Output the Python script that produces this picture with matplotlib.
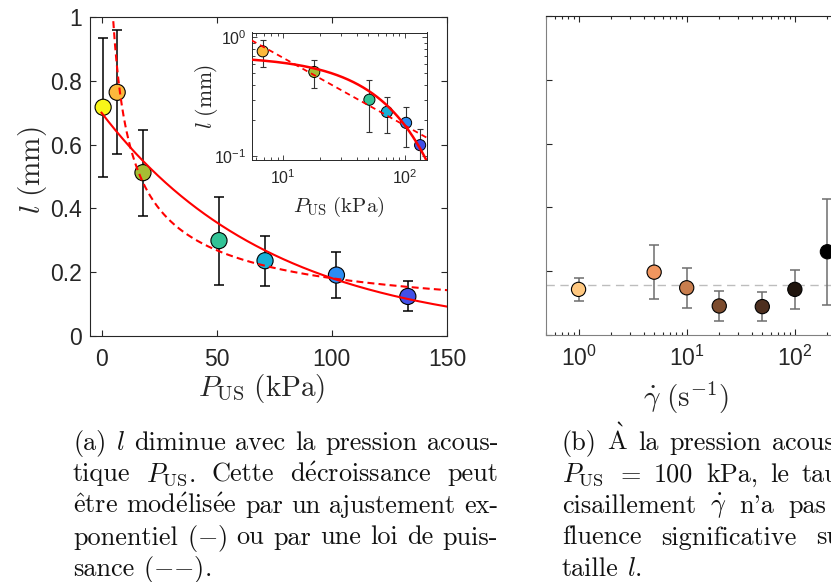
import numpy as np
import matplotlib
matplotlib.use("Agg")
import matplotlib.pyplot as plt
from matplotlib.transforms import IdentityTransform
from matplotlib.ticker import NullFormatter

plt.rcParams['font.family'] = ['Liberation Sans', 'DejaVu Sans']
plt.rcParams['mathtext.fontset'] = 'cm'
plt.rcParams['lines.scale_dashes'] = False

# ---------------- data: panel (a) ----------------
pressure_kpa = [0.7, 6.8, 18, 51, 71, 102, 133]
size_mm = [0.717, 0.764, 0.512, 0.299, 0.236, 0.191, 0.124]
size_err = [0.218, 0.195, 0.135, 0.138, 0.078, 0.071, 0.047]
colors_a = ['#F8F518', '#FCB83C', '#A6BE33', '#32C396', '#17B0D6', '#2C8CF2', '#4150E8']
# fit parameters
exp_amp, exp_scale = 0.70, 74.0      # l = A exp(-P/P0)
pow_amp, pow_exp = 2.5, 0.57         # l = B P^-n
xticks_a = [0, 50, 100, 150]
yticks_a = [0, 0.2, 0.4, 0.6, 0.8, 1]
ytick_labels_a = ['0', '0.2', '0.4', '0.6', '0.8', '1']

# ---------------- data: panel (b) ----------------
shear_rate = [1, 5, 10, 20, 50, 100, 200]
size_b = [0.143, 0.197, 0.148, 0.091, 0.089, 0.143, 0.261]
err_b = [0.035, 0.085, 0.063, 0.047, 0.046, 0.062, 0.166]
colors_b = ['#FFC880', '#F0965F', '#C97E4E', '#7C4C2E', '#4D2F1F', '#1F140D', '#000000']
mean_b = 0.156

W, H = 831, 582
fig = plt.figure(figsize=(W / 100, H / 100), dpi=100)


def px_axes(l, t, r, b):
    return fig.add_axes([l / W, 1 - b / H, (r - l) / W, (b - t) / H])


DARK = '#262626'
RED = '#FF0000'

# ---------------- main axes (a) ----------------
ax = px_axes(90, 17, 447, 336)
ax.errorbar(pressure_kpa, size_mm, yerr=size_err, fmt='none', ecolor='k',
            elinewidth=1.1, capsize=3.5, capthick=1.1, zorder=2)
ax.scatter(pressure_kpa, size_mm, s=135, c=colors_a, edgecolors='k',
           linewidths=0.8, zorder=3)
xs = np.linspace(0, 150, 400)
ax.plot(xs, exp_amp * np.exp(-xs / exp_scale), color=RED, lw=1.5, zorder=4)
xp = np.linspace(4, 150, 400)
ax.plot(xp, pow_amp * xp ** (-pow_exp), color=RED, lw=1.5, ls='--',
        dashes=(5, 3), zorder=4)
ax.set_xlim(-5, 150)
ax.set_ylim(0, 1)
ax.set_xticks(xticks_a)
ax.set_yticks(yticks_a)
ax.set_yticklabels(ytick_labels_a)
ax.tick_params(direction='in', length=4, width=0.8, top=True, right=True,
               labelsize=16.5, colors=DARK)
ax.tick_params(axis='x', pad=9)
ax.tick_params(axis='y', pad=6)
for s in ax.spines.values():
    s.set_color(DARK)
    s.set_linewidth(0.8)
ax.set_xlabel(r'$P_{\mathrm{US}}\ (\mathrm{kPa})$', fontsize=21, color=DARK)
ax.set_ylabel(r'$l\ (\mathrm{mm})$', fontsize=21, color=DARK)
ax.xaxis.set_label_coords(0.48, -0.112)
ax.yaxis.set_label_coords(-0.115, 0.52)

# ---------------- inset ----------------
ins = px_axes(251.5, 32.5, 426.5, 160)
ins.set_facecolor('white')
ins.set_xscale('log')
ins.set_yscale('log')
ins.errorbar(pressure_kpa, size_mm, yerr=size_err, fmt='none', ecolor='#333333',
             elinewidth=0.8, capsize=2.5, capthick=0.8, zorder=2)
ins.scatter(pressure_kpa, size_mm, s=64, c=colors_a, edgecolors='k',
            linewidths=0.7, zorder=3)
xi = np.linspace(5.5, 150, 400)
ins.plot(xi, exp_amp * np.exp(-xi / exp_scale), color=RED, lw=1.8, zorder=4)
ins.plot(xi, pow_amp * xi ** (-pow_exp), color=RED, lw=1.3, ls='--',
         dashes=(4, 3), zorder=4)
ins.set_xlim(5.5, 150)
ins.set_ylim(0.093, 1.1)
ins.tick_params(which='both', direction='in', top=True, right=True,
                labelsize=11.5, colors=DARK, width=0.6)
ins.tick_params(which='major', length=3.5)
ins.tick_params(which='minor', length=2)
ins.tick_params(axis='x', pad=6)
ins.xaxis.set_minor_formatter(NullFormatter())
ins.yaxis.set_minor_formatter(NullFormatter())
for s in ins.spines.values():
    s.set_color(DARK)
    s.set_linewidth(0.7)
ins.set_xlabel(r'$P_{\mathrm{US}}\ (\mathrm{kPa})$', fontsize=15, color=DARK)
ins.set_ylabel(r'$l\ (\mathrm{mm})$', fontsize=15.5, color=DARK)
ins.xaxis.set_label_coords(0.5, -0.27)
ins.yaxis.set_label_coords(-0.18, 0.5)

# ---------------- panel (b) ----------------
axb = px_axes(546, 16, 903, 335)
axb.set_xscale('log')
eb = axb.errorbar(shear_rate, size_b, yerr=err_b, fmt='none', ecolor='#6e6e6e',
                  elinewidth=1.1, capsize=3.5, capthick=1.1, zorder=2)
for cl in eb[1]:
    cl.set_color('#333333')
axb.scatter(shear_rate, size_b, s=105, c=colors_b, edgecolors='k',
            linewidths=0.8, zorder=3)
axb.axhline(mean_b, color='#bdbdbd', lw=1.0, ls='--', dashes=(6, 4), zorder=1)
axb.set_xlim(0.5, 1000)
axb.set_ylim(0, 1)
axb.set_yticks(yticks_a)
axb.set_yticklabels([])
axb.tick_params(which='both', direction='in', top=True, right=True,
                labelsize=16.5, colors=DARK, width=0.8)
axb.tick_params(which='major', length=4)
axb.tick_params(which='minor', length=2.2)
axb.tick_params(axis='x', pad=8)
axb.xaxis.set_minor_formatter(NullFormatter())
for name, s in axb.spines.items():
    s.set_linewidth(0.8)
    s.set_color('#808080' if name in ('left', 'bottom') else DARK)
axb.set_xlabel(r'$\dot{\gamma}\ (\mathrm{s}^{-1})$', fontsize=21, color=DARK)
axb.xaxis.set_label_coords(0.392, -0.14)

# ---------------- captions ----------------
renderer = fig.canvas.get_renderer()
CAP_FS = 18.9


def caption_line(x0, y_base, words, width=None):
    arts = []
    for w in words:
        fam = 'cmr10' if '$' in w else ['cmr10', 'Liberation Serif']
        t = fig.text(0, 0, w, fontsize=CAP_FS, family=fam, ha='left',
                     va='baseline', transform=IdentityTransform(), color='#111111')
        arts.append(t)
    ws = [t.get_window_extent(renderer).width for t in arts]
    if width is not None and len(arts) > 1:
        gap = (width - sum(ws)) / (len(arts) - 1)
    else:
        gap = 0.333 * CAP_FS * 100 / 72
    x = x0
    for t, w in zip(arts, ws):
        t.set_position((x, H - y_base))
        x += w + gap


caption_a = [
    ['(a)', '$l$', 'diminue', 'avec', 'la', 'pression', 'acous-'],
    ['tique', r'$P_{\mathrm{US}}$.', 'Cette', r'$\mathrm{d\acute{e}croissance}$', 'peut'],
    [r'$\mathrm{\hat{e}tre}$', r'$\mathrm{mod\acute{e}lis\acute{e}e}$', 'par', 'un',
     'ajustement', 'ex-'],
    ['ponentiel', '($-$)', 'ou', 'par', 'une', 'loi', 'de', 'puis-'],
    ['sance', '(${-}{-}$).'],
]
caption_b = [
    ['(b)', r'$\mathrm{\grave{A}}$', 'la', 'pression', 'acoustique'],
    [r'$P_{\mathrm{US}}$', '$=$', '100', 'kPa,', 'le', 'taux', 'de'],
    ['cisaillement', r'$\dot{\gamma}$', "n'a", 'pas', "d'in-"],
    ['fluence', 'significative', 'sur', 'la'],
    ['taille', '$l$.'],
]
baselines = [450, 481.5, 513, 544.5, 576]
for i, (words, yb) in enumerate(zip(caption_a, baselines)):
    caption_line(73, yb, words, width=None if i == len(caption_a) - 1 else 425)
for i, (words, yb) in enumerate(zip(caption_b, baselines)):
    caption_line(562, yb, words, width=None if i == len(caption_b) - 1 else 330)

fig.savefig('out.png', dpi=100)
